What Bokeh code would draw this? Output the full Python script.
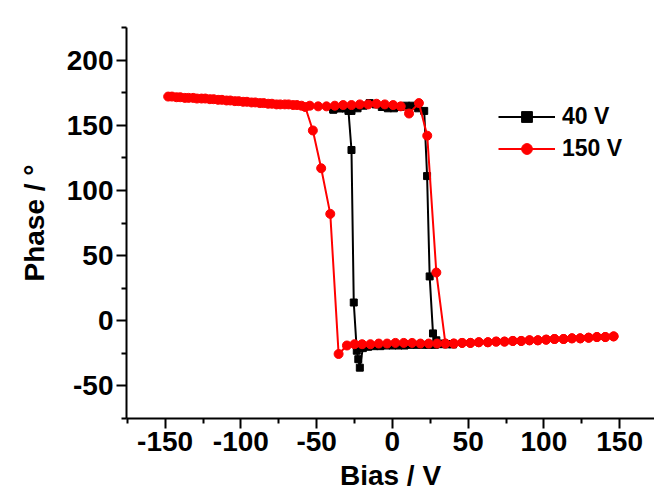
from bokeh.plotting import figure
from bokeh.models import FixedTicker, Legend, LegendItem, Range1d
from bokeh.embed import file_html
from bokeh.resources import INLINE

# 40 V loop: bias-increasing sweep, then bias-decreasing sweep
bias_40_up = [-39, -35, -31, -27, -23, -19, -15, -11, -7, -3, 1, 5, 9, 13, 17, 21,
              22.9, 24.6, 26.8, 29, 32, 36, 40]
phase_40_up = [162, 163, 163, 161, 163, 165, 167, 166, 164, 163, 163, 164, 165, 165, 163, 161,
               111, 34, -9.7, -15, -17.5, -18, -18]
bias_40_down = [40, 36, 32, 28, 24, 20, 16, 12, 8, 4, 0, -4, -8, -12, -16, -19.5,
                -21.5, -22.5, -23.5, -25.5, -27, -29, -31, -35, -39]
phase_40_down = [-18, -18, -18, -18.5, -18.5, -18.5, -18.5, -18.5, -19, -19, -19, -19, -19.5, -19.5, -20, -21,
                 -36, -29.5, -23, 14, 131, 161, 163, 163, 162]

# 150 V loop: bias-increasing sweep, then bias-decreasing sweep
bias_150_up = [-148, -142.5, -137, -131.5, -126, -120.5, -115, -109.5, -104, -98.5, -93, -87.5,
               -82, -76.5, -71, -65.5, -60, -54.5, -49, -43.5, -38, -32.5, -27, -21.5, -16,
               -10.5, -5, 0.5, 5.5, 11, 17.5, 23, 29, 35,
               40.5, 46, 51.5, 57, 63, 68.5, 74, 79.5, 85, 90.5, 96, 101.5, 107, 113, 118.5,
               124, 129.5, 135, 140.5, 146]
phase_150_up = [172, 171.5, 171, 171, 170.5, 170, 169.5, 169, 168.5, 168, 167.5, 167,
                166.5, 166, 166, 165.5, 165, 165, 164.5, 164.5, 165, 165.5, 165.5, 166, 166,
                166.5, 166, 165.5, 164.5, 159, 167, 142, 37, -17.5,
                -17.5, -17, -17, -16.5, -16.5, -16, -16, -15.5, -15.5, -15, -15, -14.5, -14, -14, -13.5,
                -13.5, -13, -12.5, -12.5, -12]
bias_150_down = [146, 140.5, 135, 129.5, 124, 118.5, 113, 107, 101.5, 96, 90.5, 85, 79.5, 74,
                 68.5, 63, 57, 51.5, 46, 40.5, 35, 29.5, 24, 18.5, 13, 7.5, 2, -3.5, -9, -14.5,
                 -20, -25, -30, -35.5, -41, -47, -52.5, -57.5,
                 -63, -68.5, -74, -79.5, -85, -90.5, -96, -101.5, -107, -112.5, -118, -123.5,
                 -129, -134.5, -140, -145.5]
phase_150_down = [-12, -12.5, -12.5, -13, -13.5, -13.5, -14, -14, -14.5, -15, -15, -15.5, -15.5, -16,
                  -16, -16.5, -16.5, -17, -17, -17.5, -17.5, -17.5, -17.5, -17.5, -17, -17, -17, -17.5, -17.5, -18,
                  -18, -18, -19, -25.5, 82, 117, 146, 164,
                  165.5, 166, 166, 166.5, 167, 167.5, 168, 168.5, 169, 169.5, 170, 170.5,
                  170.5, 171, 171.5, 172]

x_ticks = [-150, -100, -50, 0, 50, 100, 150]
x_minor = [-175, -125, -75, -25, 25, 75, 125, 175]
y_ticks = [-50, 0, 50, 100, 150, 200]
y_minor = [-75, -25, 25, 75, 125, 175, 225]

FONT = "Liberation Sans"

p = figure(width=654, height=500, x_range=Range1d(-175.5, 173), y_range=Range1d(-75, 225),
           output_backend="svg", toolbar_location=None,
           min_border_left=126, min_border_right=0, min_border_top=27, min_border_bottom=82)
p.xgrid.visible = False
p.ygrid.visible = False
p.outline_line_color = None
p.background_fill_color = "white"
p.border_fill_color = "white"

p.xaxis.ticker = FixedTicker(ticks=x_ticks, minor_ticks=x_minor)
p.yaxis.ticker = FixedTicker(ticks=y_ticks, minor_ticks=y_minor)
# plain hyphen for negative tick labels
p.xaxis.major_label_overrides = {t: str(t) for t in x_ticks}
p.yaxis.major_label_overrides = {t: str(t) for t in y_ticks}
p.xaxis.axis_label = "Bias / V"
p.yaxis.axis_label = "Phase / °"

for ax in (p.xaxis[0], p.yaxis[0]):
    ax.axis_line_width = 2
    ax.axis_line_color = "black"
    ax.major_tick_line_width = 2
    ax.minor_tick_line_width = 2
    ax.major_tick_line_color = "black"
    ax.minor_tick_line_color = "black"
    ax.major_tick_in = 0
    ax.major_tick_out = 10
    ax.minor_tick_in = 0
    ax.minor_tick_out = 5
    ax.major_label_text_font = FONT
    ax.major_label_text_font_style = "bold"
    ax.major_label_text_font_size = "28px"
    ax.major_label_text_color = "black"
    ax.axis_label_text_font = FONT
    ax.axis_label_text_font_style = "bold"
    ax.axis_label_text_font_size = "28px"
    ax.axis_label_text_color = "black"
    ax.major_label_standoff = 3

p.xaxis.axis_label_standoff = 6
p.yaxis.axis_label_standoff = 14

bx = bias_40_up + bias_40_down
by = phase_40_up + phase_40_down
rx = bias_150_up + bias_150_down
ry = phase_150_up + phase_150_down

bl = p.line(bx, by, line_color="black", line_width=2)
bm = p.scatter(bx, by, marker="square", size=7, fill_color="black", line_color="black")
rl = p.line(rx, ry, line_color="#ff0000", line_width=2)
rm = p.scatter(rx, ry, marker="circle", size=9, fill_color="#ff0000", line_color="#ff0000")

legend = Legend(items=[LegendItem(label="40 V", renderers=[bl, bm]),
                       LegendItem(label="150 V", renderers=[rl, rm])],
                location=(372, 256))
legend.border_line_color = None
legend.background_fill_alpha = 0
legend.padding = 0
legend.margin = 0
legend.spacing = 5
legend.glyph_width = 57
legend.glyph_height = 27
legend.label_height = 27
legend.label_standoff = 7
legend.label_text_font = FONT
legend.label_text_font_style = "bold"
legend.label_text_font_size = "23px"
legend.label_text_color = "black"
p.add_layout(legend)

open("out.html", "w").write(file_html(p, INLINE))
